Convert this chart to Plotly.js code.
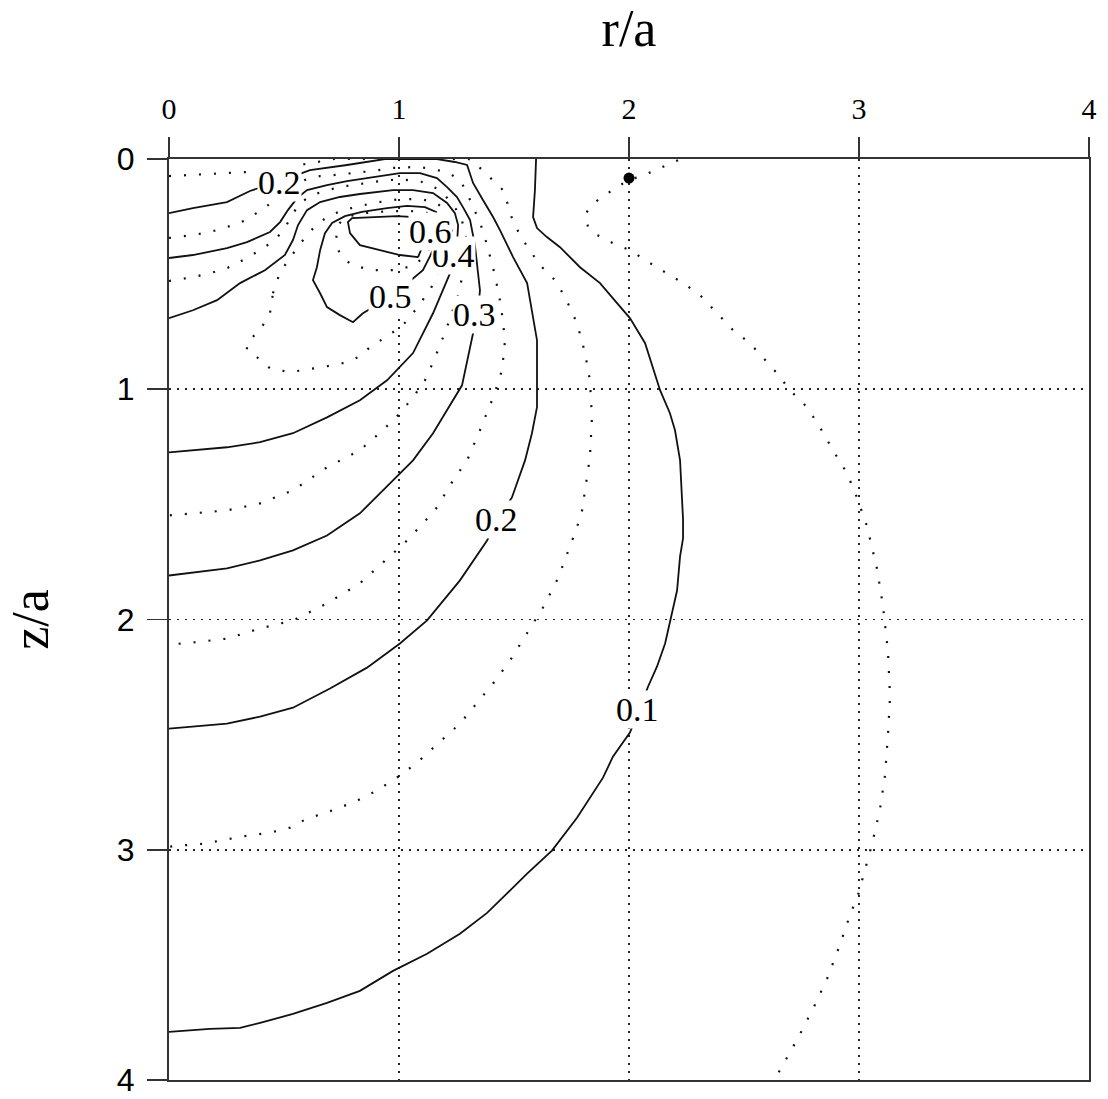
<!DOCTYPE html>
<html><head><meta charset="utf-8">
<script src="https://cdn.plot.ly/plotly-3.0.1.min.js"></script>
<style>html,body{margin:0;padding:0;background:#fff}</style>
</head><body>
<div id="chart" style="width:1108px;height:1099px"></div>
<script>
// Contour lines: each point is [r/a, z/a]
const c005 = [[2.213,0.005],[2.135,0.039],[2.048,0.078],[2.004,0.087],[1.948,0.122],[1.874,0.170],[1.830,0.209],[1.809,0.243],[1.822,0.296],[1.861,0.330],[1.930,0.365],[2.004,0.396],[2.091,0.452],[2.165,0.496],[2.235,0.539],[2.309,0.591],[2.383,0.670],[2.452,0.743],[2.526,0.800],[2.583,0.861],[2.643,0.930],[2.700,1.004],[2.774,1.078],[2.830,1.165],[2.887,1.265],[2.948,1.365],[2.991,1.470],[3.035,1.596],[3.078,1.778],[3.104,1.939],[3.126,2.139],[3.135,2.335],[3.126,2.500],[3.113,2.678],[3.091,2.826],[3.057,2.974],[3.026,3.087],[2.996,3.196],[2.961,3.283],[2.917,3.413],[2.861,3.561],[2.800,3.691],[2.730,3.826],[2.687,3.904],[2.643,3.978],[2.632,4.0]];
const c010 = [[1.596,0],[1.591,0.135],[1.583,0.252],[1.600,0.300],[1.643,0.339],[1.700,0.383],[1.787,0.470],[1.874,0.539],[1.948,0.626],[2.004,0.691],[2.070,0.800],[2.104,0.904],[2.135,1.004],[2.178,1.104],[2.200,1.178],[2.222,1.309],[2.230,1.439],[2.235,1.565],[2.235,1.648],[2.222,1.726],[2.209,1.874],[2.187,1.974],[2.157,2.104],[2.122,2.204],[2.083,2.291],[2.043,2.396],[2.004,2.491],[1.930,2.596],[1.887,2.687],[1.774,2.861],[1.665,3.004],[1.557,3.104],[1.483,3.178],[1.383,3.274],[1.265,3.365],[1.122,3.452],[0.974,3.526],[0.830,3.613],[0.687,3.665],[0.539,3.713],[0.396,3.752],[0.309,3.774],[0.178,3.778],[0,3.791]];
const c015 = [[0,0.074],[0.104,0.070],[0.178,0.065],[0.252,0.061],[0.330,0.057],[0.439,0.048],[0.548,0.030],[0.626,0.017],[0.700,0.004],[0.72,0],[1.30,0],[1.317,0.003],[1.343,0.030],[1.378,0.065],[1.417,0.100],[1.452,0.135],[1.474,0.200],[1.496,0.274],[1.539,0.352],[1.613,0.461],[1.678,0.526],[1.722,0.600],[1.774,0.713],[1.809,0.843],[1.830,0.961],[1.839,1.122],[1.830,1.296],[1.796,1.526],[1.774,1.600],[1.691,1.822],[1.626,1.948],[1.557,2.061],[1.483,2.178],[1.409,2.278],[1.330,2.374],[1.265,2.452],[1.222,2.491],[1.148,2.557],[1.078,2.622],[1.004,2.678],[0.904,2.743],[0.817,2.787],[0.743,2.817],[0.670,2.843],[0.600,2.865],[0.526,2.904],[0.439,2.926],[0.339,2.939],[0.222,2.961],[0.148,2.974],[0.035,2.983],[0,2.987]];
const c020 = [[0,0.235],[0.104,0.213],[0.252,0.187],[0.352,0.139],[0.483,0.096],[0.613,0.048],[0.774,0.026],[0.887,0.009],[0.939,0],[1.165,0],[1.243,0.013],[1.296,0.026],[1.322,0.104],[1.365,0.178],[1.409,0.252],[1.439,0.309],[1.496,0.426],[1.557,0.539],[1.578,0.670],[1.600,0.787],[1.600,0.930],[1.600,1.078],[1.578,1.191],[1.548,1.309],[1.491,1.470],[1.426,1.570],[1.383,1.657],[1.265,1.830],[1.122,2.004],[1.004,2.104],[0.861,2.209],[0.700,2.300],[0.539,2.383],[0.396,2.422],[0.252,2.452],[0,2.474]];
const c025 = [[0,0.343],[0.104,0.330],[0.178,0.317],[0.252,0.296],[0.322,0.270],[0.396,0.226],[0.461,0.178],[0.526,0.126],[0.591,0.091],[0.657,0.074],[0.713,0.070],[0.800,0.061],[0.887,0.052],[0.974,0.039],[1.061,0.035],[1.122,0.039],[1.209,0.057],[1.265,0.091],[1.296,0.148],[1.322,0.209],[1.352,0.274],[1.383,0.374],[1.417,0.504],[1.443,0.635],[1.461,0.787],[1.448,0.917],[1.413,1.026],[1.352,1.178],[1.296,1.309],[1.235,1.396],[1.165,1.513],[1.104,1.583],[1.035,1.657],[0.974,1.713],[0.830,1.843],[0.687,1.930],[0.539,2.004],[0.396,2.039],[0.252,2.083],[0.104,2.100],[0,2.109]];
const c030 = [[0,0.430],[0.104,0.417],[0.252,0.387],[0.339,0.361],[0.439,0.317],[0.483,0.274],[0.517,0.222],[0.557,0.170],[0.600,0.135],[0.687,0.113],[0.774,0.096],[0.887,0.078],[1.004,0.061],[1.091,0.061],[1.165,0.083],[1.209,0.122],[1.252,0.165],[1.278,0.209],[1.309,0.265],[1.330,0.374],[1.343,0.483],[1.352,0.570],[1.343,0.670],[1.322,0.757],[1.274,0.983],[1.235,1.048],[1.148,1.191],[1.061,1.309],[1.004,1.365],[0.830,1.539],[0.687,1.635],[0.539,1.700],[0.396,1.743],[0.252,1.778],[0,1.809]];
const c035 = [[0,0.530],[0.104,0.513],[0.178,0.496],[0.252,0.474],[0.322,0.439],[0.396,0.396],[0.461,0.352],[0.504,0.300],[0.535,0.243],[0.570,0.191],[0.622,0.157],[0.687,0.135],[0.774,0.117],[0.887,0.100],[1.004,0.087],[1.104,0.100],[1.178,0.135],[1.230,0.191],[1.270,0.252],[1.291,0.339],[1.291,0.439],[1.257,0.591],[1.204,0.743],[1.152,0.874],[1.113,0.961],[1.061,1.035],[1.004,1.104],[0.930,1.178],[0.830,1.265],[0.687,1.339],[0.539,1.439],[0.396,1.496],[0.252,1.526],[0.104,1.539],[0,1.548]];
const c040 = [[0,0.691],[0.104,0.657],[0.209,0.613],[0.309,0.539],[0.417,0.483],[0.504,0.417],[0.539,0.352],[0.561,0.287],[0.600,0.222],[0.657,0.187],[0.743,0.165],[0.830,0.152],[0.974,0.135],[1.061,0.135],[1.148,0.148],[1.209,0.191],[1.243,0.235],[1.257,0.287],[1.252,0.374],[1.222,0.496],[1.148,0.670],[1.061,0.843],[0.948,0.961],[0.830,1.048],[0.687,1.122],[0.539,1.191],[0.396,1.230],[0.252,1.252],[0,1.274]];
const c045 = [[0.452,0.583],[0.483,0.491],[0.535,0.417],[0.583,0.352],[0.635,0.291],[0.700,0.243],[0.778,0.217],[0.887,0.191],[1.004,0.174],[1.100,0.174],[1.170,0.196],[1.213,0.235],[1.230,0.309],[1.213,0.396],[1.183,0.461],[1.139,0.561],[1.078,0.648],[1.017,0.722],[0.948,0.770],[0.874,0.817],[0.830,0.857],[0.774,0.883],[0.687,0.900],[0.583,0.917],[0.526,0.926],[0.439,0.909],[0.383,0.861],[0.339,0.830],[0.339,0.796],[0.396,0.743],[0.439,0.670],[0.452,0.583]];
const c050 = [[0.843,0.670],[0.800,0.709],[0.743,0.678],[0.687,0.643],[0.657,0.583],[0.626,0.526],[0.643,0.470],[0.657,0.396],[0.678,0.322],[0.709,0.278],[0.765,0.248],[0.839,0.230],[0.948,0.213],[1.035,0.204],[1.113,0.209],[1.161,0.230],[1.178,0.274],[1.170,0.343],[1.135,0.422],[1.104,0.483],[1.026,0.548],[0.939,0.613],[0.843,0.670]];
const c055 = [[1.126,0.235],[1.048,0.226],[0.961,0.226],[0.852,0.235],[0.765,0.252],[0.735,0.287],[0.726,0.352],[0.743,0.417],[0.796,0.461],[0.883,0.483],[0.983,0.483],[1.070,0.461],[1.126,0.404],[1.148,0.330],[1.143,0.274],[1.126,0.235]];
const c060 = [[1.083,0.426],[1.004,0.417],[0.917,0.396],[0.830,0.374],[0.787,0.322],[0.778,0.274],[0.796,0.257],[0.887,0.252],[0.991,0.248],[1.070,0.252],[1.109,0.287],[1.113,0.352],[1.083,0.426]];

const solidLines = [c010, c020, c030, c040, c050, c060];
const dottedLines = [c005, c015, c025, c035, c045, c055];

// Contour labels
const labelText = ['0.2', '0.4', '0.6', '0.5', '0.3', '0.2', '0.1'];
const labelR    = [0.480, 1.238, 1.135, 0.961, 1.330, 1.426, 2.035];
const labelZ    = [0.100, 0.418, 0.313, 0.596, 0.674, 1.565, 2.391];

// Source point
const dotR = [2.0];
const dotZ = [0.083];

const ink = '#111';
const traces = [];
solidLines.forEach(c => traces.push({
  type: 'scatter', mode: 'lines', hoverinfo: 'skip', showlegend: false,
  x: c.map(p => p[0]), y: c.map(p => p[1]),
  line: {color: ink, width: 1.8}
}));
dottedLines.forEach(c => traces.push({
  type: 'scatter', mode: 'lines', hoverinfo: 'skip', showlegend: false,
  x: c.map(p => p[0]), y: c.map(p => p[1]),
  line: {color: ink, width: 2.2, dash: '2px,13px'}
}));
traces.push({
  type: 'scatter', mode: 'markers', showlegend: false,
  x: dotR, y: dotZ, marker: {color: '#000', size: 11}
});

const annotations = labelText.map((t, i) => ({
  x: labelR[i], y: labelZ[i], xref: 'x', yref: 'y', text: t, showarrow: false,
  bgcolor: '#fff', borderpad: 0,
  font: {family: 'Liberation Serif, Times New Roman, serif', size: 34, color: '#000'}
}));

const axisCommon = {
  range: [0, 4], dtick: 1, tick0: 0, ticks: 'outside', ticklen: 20, tickwidth: 1.6, tickcolor: '#333',
  showline: true, linecolor: '#333', linewidth: 2, mirror: true,
  showgrid: true, gridcolor: '#222', gridwidth: 1.6, griddash: '2px,6px',
  zeroline: false, automargin: false, fixedrange: true
};

const layout = {
  width: 1108, height: 1099,
  margin: {l: 169, r: 19, t: 159, b: 19},
  paper_bgcolor: '#fff', plot_bgcolor: '#fff',
  xaxis: Object.assign({}, axisCommon, {
    side: 'top', ticklabelstandoff: 6,
    tickfont: {family: 'Liberation Serif, Times New Roman, serif', size: 30, color: '#000'},
    title: {text: 'r/a', font: {family: 'Liberation Serif, Times New Roman, serif', size: 52, color: '#000'}, standoff: 36}
  }),
  yaxis: Object.assign({}, axisCommon, {
    range: [4, 0], ticklabelstandoff: 6,
    tickfont: {family: 'Liberation Sans, Arial, sans-serif', size: 32, color: '#000'},
    title: {text: 'z/a', font: {family: 'Liberation Serif, Times New Roman, serif', size: 52, color: '#000'}, standoff: 52}
  }),
  annotations: annotations
};

Plotly.newPlot('chart', traces, layout, {displayModeBar: false, staticPlot: true});
</script>
</body></html>
